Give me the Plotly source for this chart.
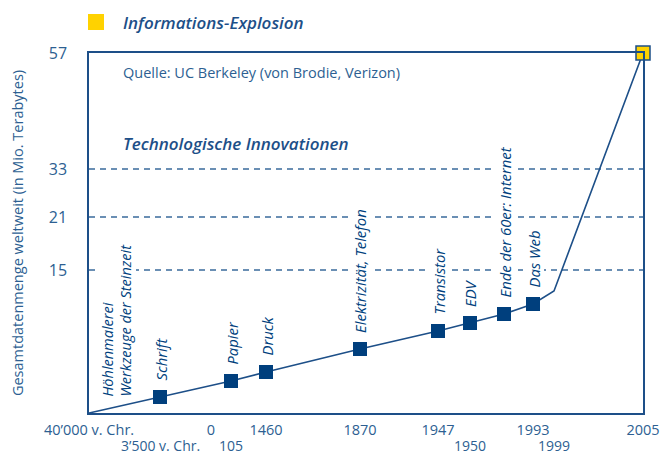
import plotly.graph_objects as go

# Schematic timeline (non-linear axes as in the original graphic)
tick_labels_row1 = ["40’000 v. Chr.", "0", "1460", "1870", "1947", "1993", "2005"]
tick_pos_row1 = [0, 122, 177, 271, 349, 444, 554]
tick_labels_row2 = ["3’500 v. Chr.", "105", "1950", "1999"]
tick_pos_row2 = [71, 142, 381, 465]

# Innovation events (schematic x position, schematic y level)
events = ["Schrift", "Papier", "Druck", "Elektrizität, Telefon", "Transistor",
          "EDV", "Ende der 60er: Internet", "Das Web"]
event_x = [71, 142, 177, 271, 349, 381, 415, 444]
event_y = [16, 32, 41, 64, 82, 90, 99, 109]

# full curve: start, events, 1999, 2005
curve_x = [0] + event_x + [465, 554]
curve_y = [0] + event_y + [122, 360]

# y axis (Gesamtdatenmenge in Mio. Terabytes)
y_tick_text = ["15", "21", "33", "57"]
y_tick_pos = [143, 196, 244, 360]
dashed_levels = [143, 196, 244]

explosion_x = [554]
explosion_y = [360]

BLUE = "#1d4f88"
DARK = "#003f7d"
TXT = "#2d5f92"
YELLOW = "#ffd200"
FONT = "Open Sans"

fig = go.Figure()

for lvl in dashed_levels:
    fig.add_shape(type="line", xref="x", yref="y", x0=0, x1=554, y0=lvl, y1=lvl,
                  line=dict(color="#3a6b9c", width=1.3, dash="6px,5px"), layer="below")

fig.add_trace(go.Scatter(x=curve_x, y=curve_y, mode="lines",
                         line=dict(color=BLUE, width=1.6), showlegend=False, hoverinfo="skip"))
fig.add_trace(go.Scatter(x=event_x, y=event_y, mode="markers",
                         marker=dict(symbol="square", size=14, color=DARK), showlegend=False,
                         text=events))
fig.add_trace(go.Scatter(x=explosion_x, y=explosion_y, mode="markers", cliponaxis=False,
                         marker=dict(symbol="square", size=14, color=YELLOW,
                                     line=dict(color=BLUE, width=1.5)),
                         showlegend=False))

# event labels (rotated)
for ex, ey, name in zip(event_x, event_y, events):
    fig.add_annotation(x=ex, y=ey, xref="x", yref="y", text=name, showarrow=False,
                       textangle=-90, xanchor="center", yanchor="bottom", yshift=15,
                       font=dict(family=FONT, size=14.8, color=DARK, style="italic"),
                       bgcolor="white", borderpad=0)
fig.add_annotation(x=curve_x[0], y=curve_y[0], xref="x", yref="y",
                   text="<i>Höhlenmalerei<br>Werkzeuge der Steinzeit</i>", showarrow=False,
                   textangle=-90, xanchor="center", yanchor="bottom", xshift=27, yshift=15,
                   align="left", font=dict(family=FONT, size=14.5, color=DARK),
                   bgcolor="white", borderpad=0)

# second row of x labels
for px, lab in zip(tick_pos_row2, tick_labels_row2):
    fig.add_annotation(x=px, y=0, xref="x", yref="paper", text=lab, showarrow=False,
                       xanchor="center", yanchor="middle", yshift=-32.5, borderpad=0,
                       font=dict(family=FONT, size=14, color=TXT))

# headings
fig.add_shape(type="rect", xref="paper", yref="paper",
              x0=-1 / 554, x1=15 / 554, y0=1 + 23 / 360, y1=1 + 39 / 360,
              fillcolor=YELLOW, line=dict(width=0))
fig.add_annotation(x=32 / 554, y=1 + 31 / 360, xref="paper", yref="paper",
                   text="Informations-Explosion", showarrow=False,
                   xanchor="left", yanchor="middle",
                   font=dict(family=FONT, size=17, color=BLUE, style="italic", weight=600))
fig.add_annotation(x=32 / 554, y=(413 - 72) / 360, xref="paper", yref="paper",
                   text="Quelle: UC Berkeley (von Brodie, Verizon)", showarrow=False,
                   xanchor="left", yanchor="middle",
                   font=dict(family=FONT, size=14.5, color=TXT))
fig.add_annotation(x=32 / 554, y=(413 - 143) / 360, xref="paper", yref="paper",
                   text="Technologische Innovationen", showarrow=False,
                   xanchor="left", yanchor="middle",
                   font=dict(family=FONT, size=17, color=BLUE, style="italic", weight=600))

fig.update_layout(
    width=661, height=455,
    margin=dict(l=89, r=18, t=53, b=42),
    paper_bgcolor="white", plot_bgcolor="white",
    font=dict(family=FONT, color=TXT),
    showlegend=False,
    xaxis=dict(range=[0, 554], tickmode="array", tickvals=tick_pos_row1,
               ticktext=tick_labels_row1, showgrid=False, zeroline=False,
               showline=True, mirror=True, linecolor=BLUE, linewidth=1.5,
               ticks="", automargin=False, ticklabelstandoff=3,
               tickfont=dict(size=14.5, color=TXT, family=FONT)),
    yaxis=dict(range=[0, 360], tickmode="array", tickvals=y_tick_pos,
               ticktext=y_tick_text, showgrid=False, zeroline=False,
               showline=True, mirror=True, linecolor=BLUE, linewidth=1.5,
               ticks="", ticklabelstandoff=17, automargin=False,
               tickfont=dict(size=16, color=TXT, family=FONT),
               title=dict(text="Gesamtdatenmenge weltweit (in Mio. Terabytes)",
                          font=dict(size=14.5, color=TXT, family=FONT), standoff=22)),
)

fig.write_html("out.html", config={"displayModeBar": False},
               post_script="document.body.style.margin='0';document.body.style.overflow='hidden';")
